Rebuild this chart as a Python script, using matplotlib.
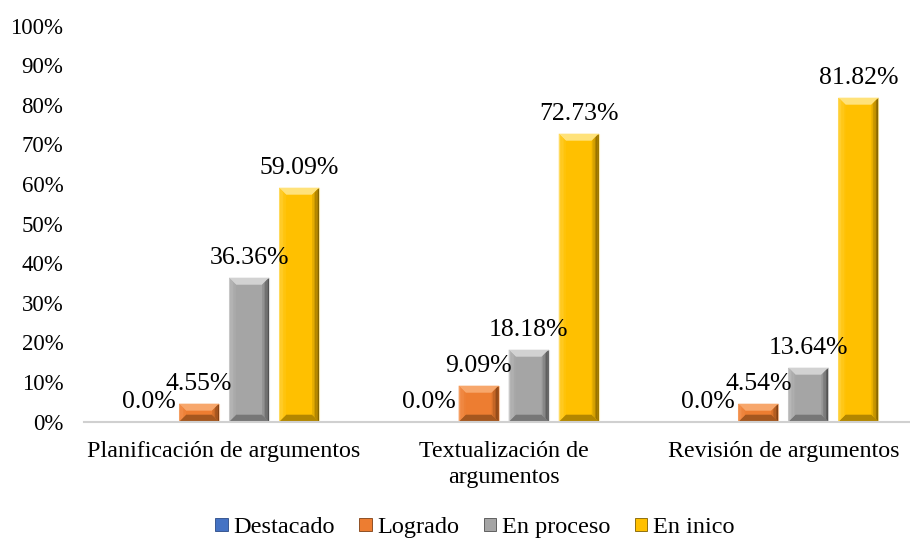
import matplotlib.pyplot as plt
from matplotlib.patches import Polygon, Patch
from matplotlib.colors import to_rgb
from matplotlib.ticker import FuncFormatter
import numpy as np

plt.rcParams["font.family"] = ["Liberation Serif", "DejaVu Serif"]

categories = ["Planificación de argumentos", "Textualización de\nargumentos", "Revisión de argumentos"]
series = ["Destacado", "Logrado", "En proceso", "En inico"]
destacado = [0.0, 0.0, 0.0]
logrado = [4.55, 9.09, 4.54]
en_proceso = [36.36, 18.18, 13.64]
en_inico = [59.09, 72.73, 81.82]
labels = [
    ["0.0%", "0.0%", "0.0%"],
    ["4.55%", "9.09%", "4.54%"],
    ["36.36%", "18.18%", "13.64%"],
    ["59.09%", "72.73%", "81.82%"],
]

# base, top, left, right, bottom
palette = {
    "Destacado": ("#4472C4", "#7A9BD8", "#5A84CE", "#2A4A85", "#34599C"),
    "Logrado": ("#ED7D31", "#F7A76C", "#F39352", "#7E3F14", "#A5571F"),
    "En proceso": ("#A5A5A5", "#D2D2D2", "#BBBBBB", "#4E4E4E", "#777777"),
    "En inico": ("#FFC000", "#FFE27A", "#FFD23A", "#7F6000", "#B38700"),
}

fig = plt.figure(figsize=(9.10, 5.41), dpi=100)
ax = fig.add_axes([84.2 / 910, 119.3 / 541, 839 / 910, 396 / 541])

x = np.arange(len(categories))
step = 0.179
width = 0.143
values = [destacado, logrado, en_proceso, en_inico]
px_x = 279.7
px_y = 3.96


def mix(c1, c2, t):
    a, b = np.array(to_rgb(c1)), np.array(to_rgb(c2))
    return tuple(a + (b - a) * t)


def bevel_bar(x0, x1, h, cols):
    base, top, left, right, bottom = cols
    if h <= 0:
        return
    dx = min(7 / px_x, (x1 - x0) / 2)
    dy = min(7 / px_y, h / 2)
    ax.add_patch(Polygon([(x0, 0), (x1, 0), (x1, h), (x0, h)], fc=base, ec="none"))
    ax.add_patch(Polygon([(x0, h), (x1, h), (x1 - dx, h - dy), (x0 + dx, h - dy)], fc=top, ec="none"))
    ax.add_patch(Polygon([(x0, 0), (x1, 0), (x1 - dx, dy), (x0 + dx, dy)], fc=bottom, ec="none"))
    n = 5
    for k in range(n):
        t0, t1 = k / n, (k + 1) / n
        # left face: light at edge -> base toward inside
        ax.add_patch(Polygon([(x0 + dx * t0, dy * t0), (x0 + dx * t1, dy * t1),
                              (x0 + dx * t1, h - dy * t1), (x0 + dx * t0, h - dy * t0)],
                             fc=mix(left, base, t0), ec="none"))
        # right face: dark at edge -> base toward inside
        ax.add_patch(Polygon([(x1 - dx * t0, dy * t0), (x1 - dx * t1, dy * t1),
                              (x1 - dx * t1, h - dy * t1), (x1 - dx * t0, h - dy * t0)],
                             fc=mix(right, base, t0), ec="none"))
    ax.add_patch(Polygon([(x0, 0), (x1, 0), (x1, h), (x0, h)], fc="none", ec=top, lw=0.8, alpha=0.6))


for i, (name, vals) in enumerate(zip(series, values)):
    centers = x + (i - 1.5) * step
    for c, v, lab in zip(centers, vals, labels[i]):
        bevel_bar(c - width / 2, c + width / 2, v, palette[name])
        ax.annotate(lab, (c, v), xytext=(0, 6), textcoords="offset points",
                    ha="center", va="bottom", fontsize=18.5, color="black")

ax.set_xlim(-0.5, 2.5)
ax.set_ylim(0, 100)
ax.set_yticks(np.arange(0, 101, 10))
ax.yaxis.set_major_formatter(FuncFormatter(lambda v, _: f"{v:.0f}%"))
ax.set_xticks(x)
ax.set_xticklabels(categories, fontsize=17.3, linespacing=1.3)
ax.tick_params(axis="y", length=0, pad=15, labelsize=16.5)
ax.tick_params(axis="x", length=0, pad=14)
for s in ["top", "right", "left"]:
    ax.spines[s].set_visible(False)
ax.spines["bottom"].set_color("#d0d0d0")
ax.spines["bottom"].set_linewidth(1.5)

handles = [Patch(fc=palette[n][0], ec=palette[n][3], lw=0.6) for n in series]
fig.legend(handles, series, loc="lower center", bbox_to_anchor=(0.522, -0.035), ncol=4,
           frameon=False, fontsize=17.5, handlelength=0.5, handleheight=0.5,
           handletextpad=0.25, columnspacing=1.0)

fig.savefig("out.png", dpi=100)
